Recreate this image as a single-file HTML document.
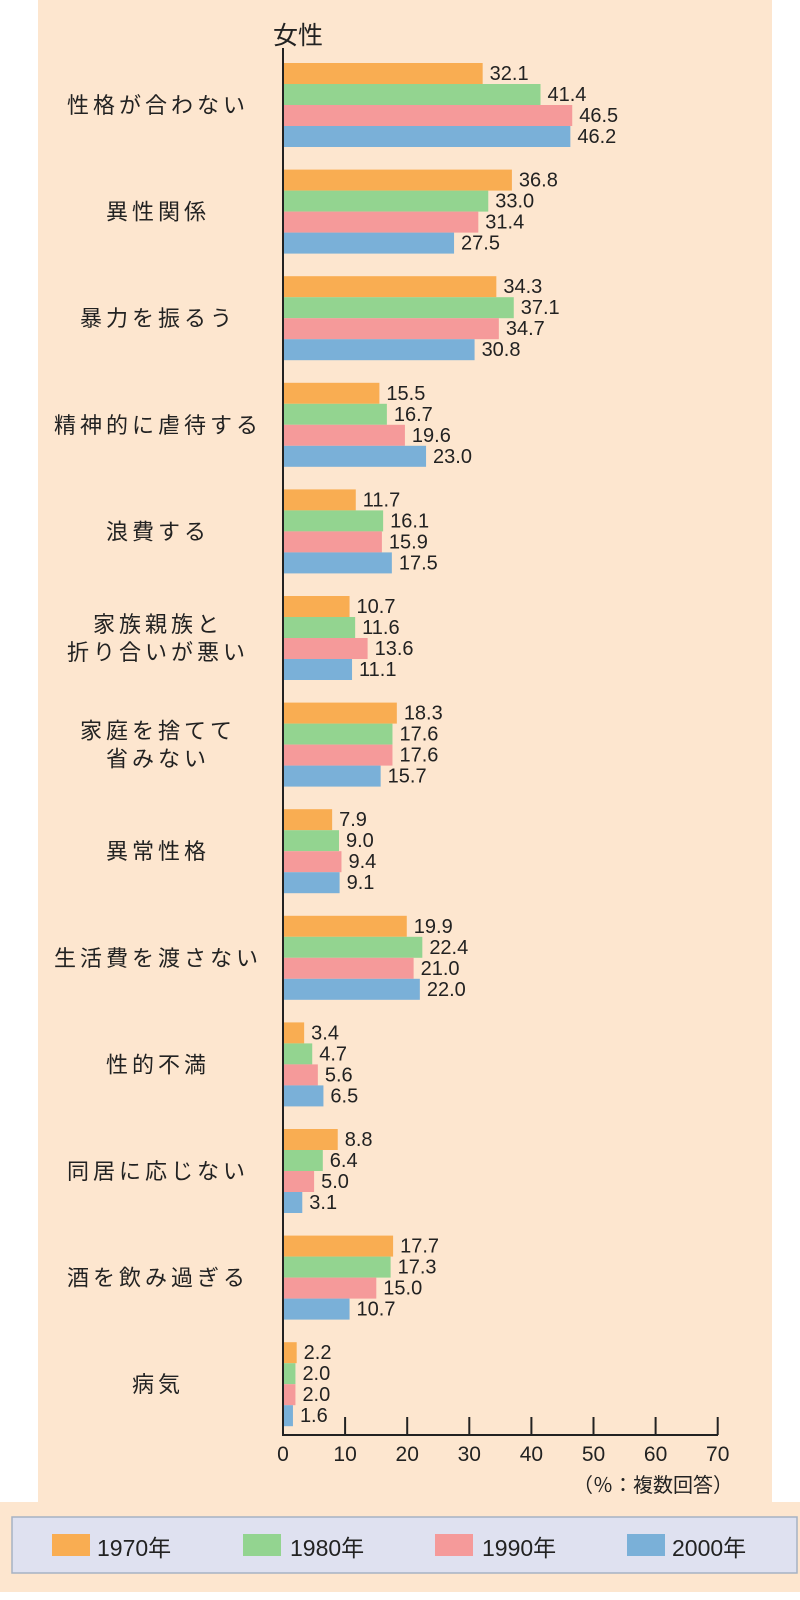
<!DOCTYPE html>
<html><head><meta charset="utf-8"><style>
html,body{margin:0;padding:0;background:#fff;}
svg{display:block;}
text{font-family:"Liberation Sans","Noto Sans CJK JP",sans-serif;fill:#222;}
</style></head><body>
<svg id="s" width="800" height="1600" viewBox="0 0 800 1600" xmlns="http://www.w3.org/2000/svg">
<rect x="38" y="0" width="734" height="1502" fill="#fde6cf"/>
<rect x="0" y="1502" width="800" height="90" fill="#fde6cf"/>
<rect x="12" y="1517" width="785" height="56" fill="#dfe1f0" stroke="#a6b2c4" stroke-width="1.5"/>
<text x="273" y="44" font-size="25">女性</text>
<g id="bars"></g>
<line x1="283" y1="48" x2="283" y2="1436" stroke="#222" stroke-width="2"/>
<line x1="282" y1="1435" x2="718" y2="1435" stroke="#222" stroke-width="2"/>
<g id="ticks"></g>
<text x="733" y="1492" font-size="20" text-anchor="end">（％：複数回答）</text>
<rect x="52" y="1534" width="38" height="22" fill="#f9ad52"/><text x="97" y="1556" font-size="23">1970年</text>
<rect x="243" y="1534" width="38" height="22" fill="#93d490"/><text x="290" y="1556" font-size="23">1980年</text>
<rect x="435" y="1534" width="38" height="22" fill="#f59a9a"/><text x="482" y="1556" font-size="23">1990年</text>
<rect x="627" y="1534" width="38" height="22" fill="#7ab0d8"/><text x="672" y="1556" font-size="23">2000年</text>
</svg>
<script>
var NS="http://www.w3.org/2000/svg";
var data=[
[["性格が合わない"],[32.1,41.4,46.5,46.2]],
[["異性関係"],[36.8,33.0,31.4,27.5]],
[["暴力を振るう"],[34.3,37.1,34.7,30.8]],
[["精神的に虐待する"],[15.5,16.7,19.6,23.0]],
[["浪費する"],[11.7,16.1,15.9,17.5]],
[["家族親族と","折り合いが悪い"],[10.7,11.6,13.6,11.1]],
[["家庭を捨てて","省みない"],[18.3,17.6,17.6,15.7]],
[["異常性格"],[7.9,9.0,9.4,9.1]],
[["生活費を渡さない"],[19.9,22.4,21.0,22.0]],
[["性的不満"],[3.4,4.7,5.6,6.5]],
[["同居に応じない"],[8.8,6.4,5.0,3.1]],
[["酒を飲み過ぎる"],[17.7,17.3,15.0,10.7]],
[["病気"],[2.2,2.0,2.0,1.6]]];
var cols=["#f9ad52","#93d490","#f59a9a","#7ab0d8"];
var x0=283,sc=6.22,g=document.getElementById("bars");
function el(n,a,t){var e=document.createElementNS(NS,n);for(var k in a)e.setAttribute(k,a[k]);if(t)e.textContent=t;return e;}
data.forEach(function(d,i){
 var top=63+i*106.6;
 d[1].forEach(function(v,j){
  var y=top+j*21;
  g.appendChild(el("rect",{x:x0,y:y,width:v*sc,height:21,fill:cols[j]}));
  g.appendChild(el("text",{x:x0+v*sc+7,y:y+17,"font-size":20},v.toFixed(1)));
 });
 var cy=top+42,L=d[0];
 L.forEach(function(s,k){
  var y=cy+8+(k-(L.length-1)/2)*28;
  g.appendChild(el("text",{x:158,y:y,"font-size":22,"text-anchor":"middle","letter-spacing":"4"},s));
 });
});
var t=document.getElementById("ticks");
for(var k=0;k<=7;k++){var x=x0+k*62.1;
 if(k>0)t.appendChild(el("line",{x1:x,y1:1417,x2:x,y2:1435,stroke:"#222","stroke-width":2}));
 t.appendChild(el("text",{x:x,y:1461,"font-size":21,"text-anchor":"middle"},String(k*10)));}
</script>
</body></html>
